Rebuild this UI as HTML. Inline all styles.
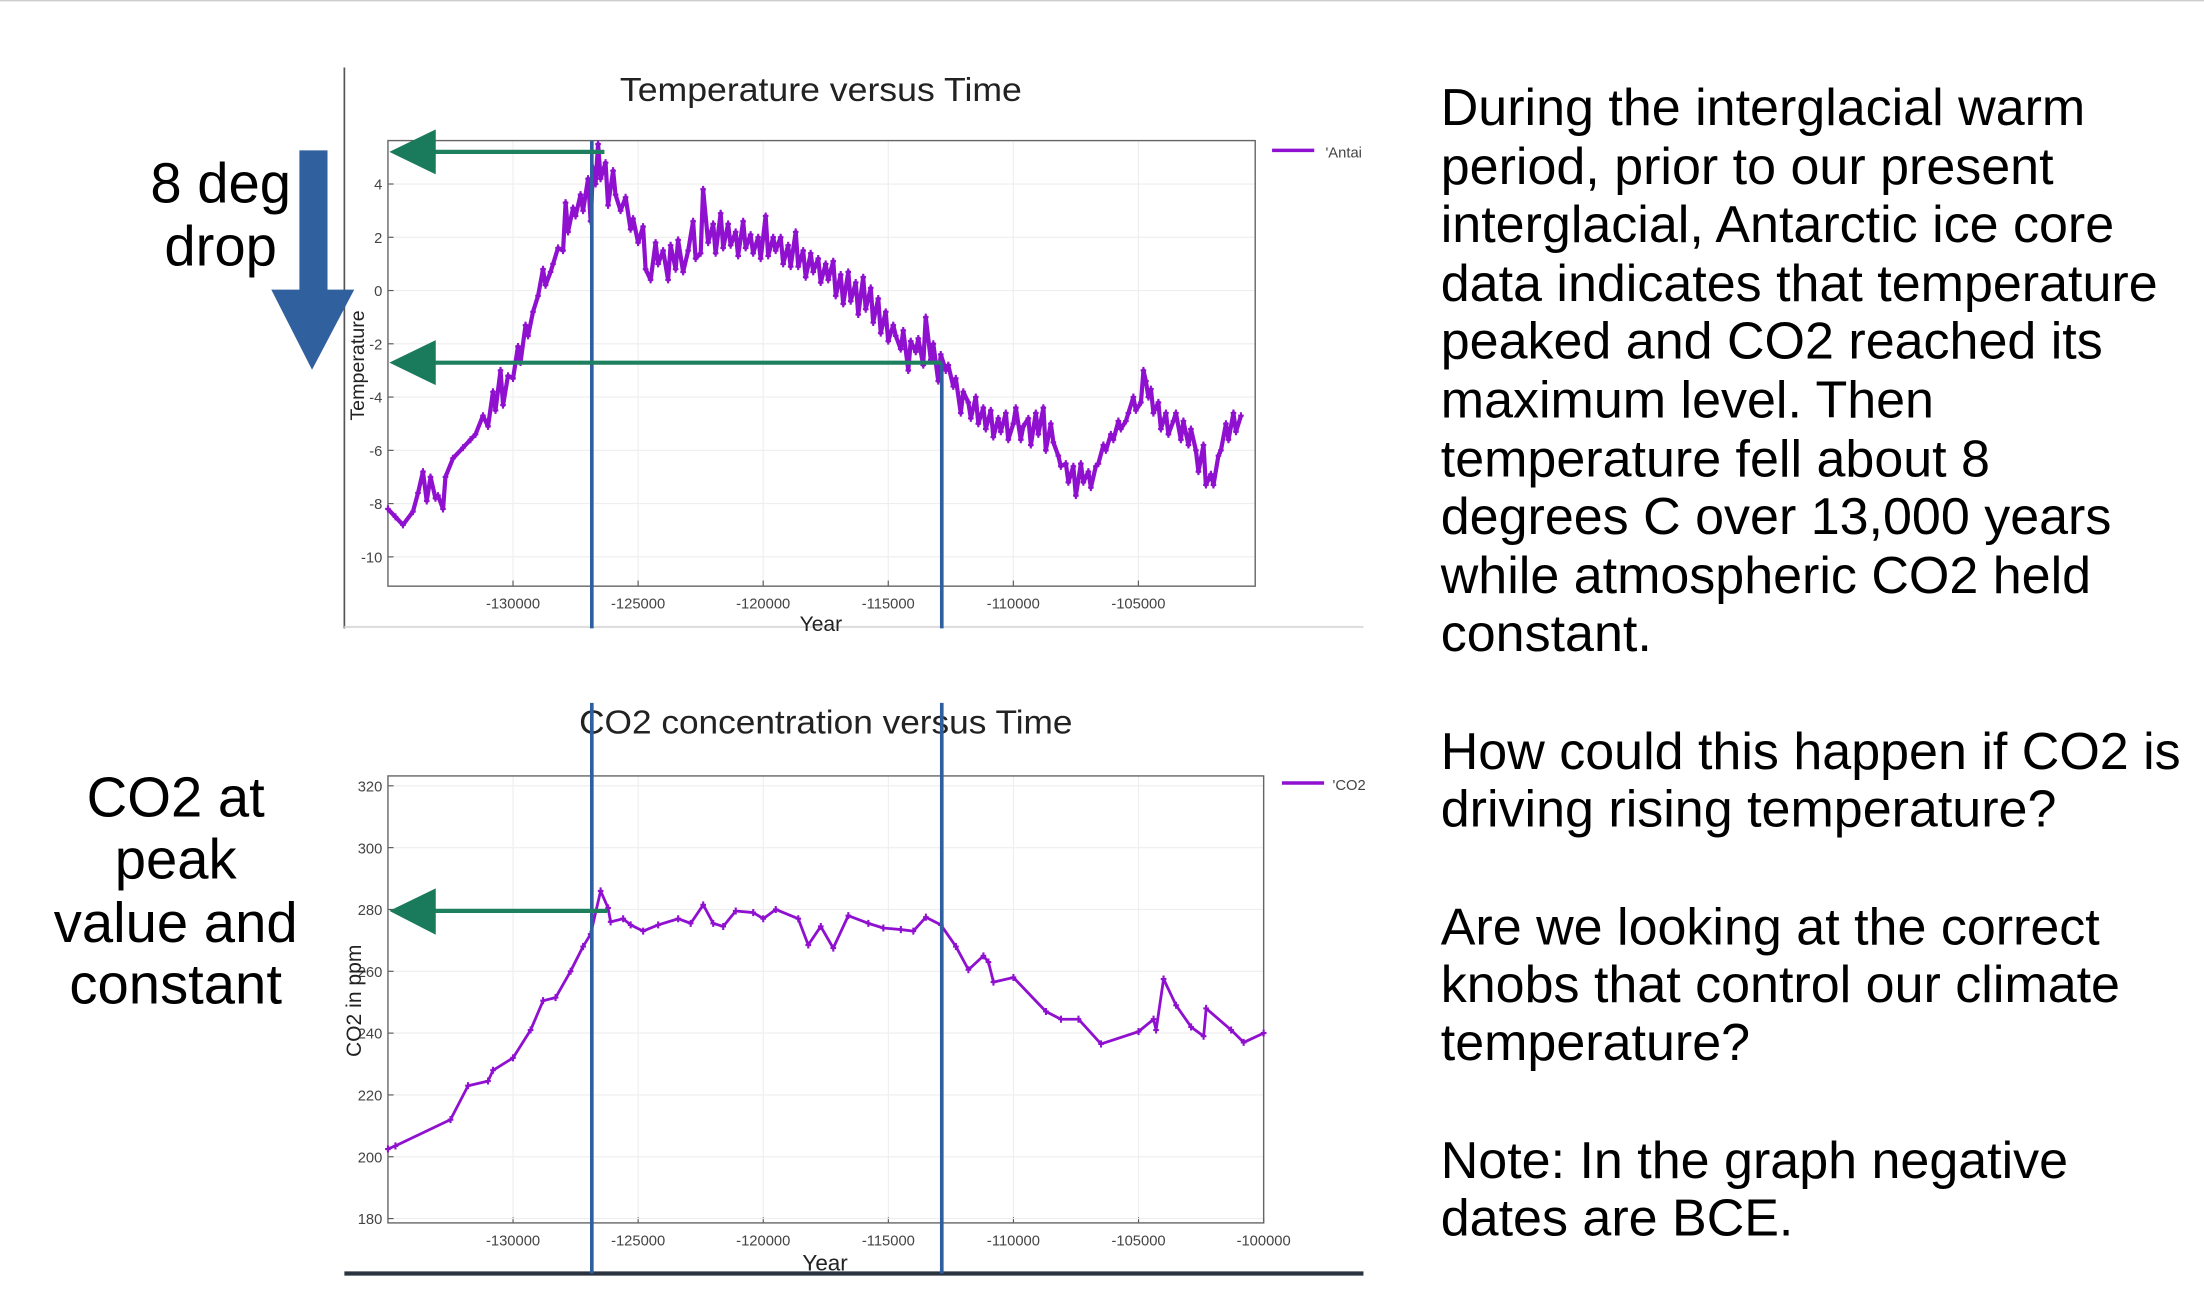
<!DOCTYPE html>
<html><head><meta charset="utf-8">
<style>
html,body{margin:0;padding:0;background:#fff;}
svg{display:block;}
text{font-family:"Liberation Sans",sans-serif;}
.tk{font-size:10.5px;fill:#444;}
</style></head>
<body>
<svg id="root" width="2204" height="1289" viewBox="0 0 1568 917" xmlns="http://www.w3.org/2000/svg">
<line x1="0" y1="0.5" x2="1568" y2="0.5" stroke="#ccc" stroke-width="1"/>
<g id="temp-chart"></g>
<g id="co2-chart"></g>

<g>
<text x="157" y="144" font-size="40" text-anchor="middle">8 deg</text>
<text x="157" y="189" font-size="40" text-anchor="middle">drop</text>
<polygon points="213,107 233,107 233,206 252,206 222,263 193,206 213,206" fill="#31609f"/>
<text x="125" y="581" font-size="40" text-anchor="middle">CO2 at</text>
<text x="125" y="625" font-size="40" text-anchor="middle">peak</text>
<text x="125" y="670" font-size="40" text-anchor="middle">value and</text>
<text x="125" y="714" font-size="40" text-anchor="middle">constant</text>
</g>

<g font-size="37">
<text x="1025" y="89">During the interglacial warm</text>
<text x="1025" y="131">period, prior to our present</text>
<text x="1025" y="172">interglacial, Antarctic ice core</text>
<text x="1025" y="214">data indicates that temperature</text>
<text x="1025" y="255">peaked and CO2 reached its</text>
<text x="1025" y="297">maximum level. Then</text>
<text x="1025" y="339">temperature fell about 8</text>
<text x="1025" y="380">degrees C over 13,000 years</text>
<text x="1025" y="422">while atmospheric CO2 held</text>
<text x="1025" y="463">constant.</text>
<text x="1025" y="547">How could this happen if CO2 is</text>
<text x="1025" y="588">driving rising temperature?</text>
<text x="1025" y="672">Are we looking at the correct</text>
<text x="1025" y="713">knobs that control our climate</text>
<text x="1025" y="754">temperature?</text>
<text x="1025" y="838">Note: In the graph negative</text>
<text x="1025" y="879">dates are BCE.</text>
</g>
</svg>
<script>
const NS="http://www.w3.org/2000/svg";
const xTicks=[-130000,-125000,-120000,-115000,-110000,-105000];
const xTicksCo2=[-130000,-125000,-120000,-115000,-110000,-105000,-100000];
const tempTicks=[4,2,0,-2,-4,-6,-8,-10];
const co2Ticks=[320,300,280,260,240,220,200,180];
const tempYears=[-135000,-134700,-134400,-134000,-133800,-133600,-133450,-133300,-133100,-133000,-132800,-132700,-132400,-132000,-131700,-131500,-131200,-131000,-130800,-130700,-130500,-130400,-130200,-130000,-129800,-129700,-129500,-129400,-129200,-129000,-128800,-128700,-128500,-128400,-128200,-128000,-127900,-127800,-127600,-127500,-127300,-127200,-127000,-126900,-126800,-126700,-126600,-126500,-126300,-126200,-126000,-125900,-125700,-125500,-125300,-125200,-125000,-124800,-124700,-124500,-124300,-124200,-124000,-123800,-123700,-123500,-123400,-123200,-123000,-122800,-122700,-122500,-122400,-122200,-122000,-121900,-121700,-121600,-121400,-121300,-121100,-121000,-120800,-120700,-120500,-120400,-120200,-120100,-119900,-119800,-119600,-119500,-119300,-119200,-119000,-118900,-118700,-118600,-118400,-118300,-118100,-118000,-117800,-117700,-117500,-117400,-117200,-117100,-116900,-116800,-116600,-116500,-116300,-116200,-116000,-115900,-115700,-115600,-115400,-115300,-115100,-115000,-114800,-114700,-114500,-114400,-114200,-114100,-113900,-113800,-113600,-113500,-113300,-113200,-113000,-112900,-112700,-112600,-112400,-112300,-112100,-112000,-111800,-111700,-111500,-111400,-111200,-111100,-110900,-110800,-110600,-110500,-110300,-110200,-110000,-109900,-109700,-109600,-109400,-109300,-109100,-109000,-108800,-108700,-108500,-108400,-108200,-108100,-107900,-107800,-107600,-107500,-107300,-107200,-107000,-106900,-106700,-106600,-106400,-106300,-106100,-106000,-105800,-105700,-105500,-105400,-105200,-105100,-104900,-104800,-104700,-104600,-104500,-104400,-104200,-104100,-103900,-103800,-103600,-103500,-103300,-103200,-103000,-102900,-102700,-102600,-102400,-102300,-102100,-102000,-101800,-101700,-101500,-101400,-101200,-101100,-100900,-100800,-100600,-100500,-100300];
const tempValues=[-8.2,-8.5,-8.8,-8.3,-7.6,-6.8,-7.9,-7.0,-7.8,-7.7,-8.2,-7.0,-6.3,-5.9,-5.6,-5.4,-4.7,-5.1,-3.8,-4.5,-3.0,-4.3,-3.2,-3.3,-2.1,-2.7,-1.3,-1.7,-0.8,-0.2,0.8,0.2,0.7,1.0,1.6,1.5,3.3,2.2,3.1,2.8,3.6,3.0,4.2,2.6,4.6,4.0,5.5,4.2,4.8,3.2,4.5,3.6,3.0,3.5,2.3,2.7,1.8,2.4,0.8,0.4,1.8,1.0,1.5,0.4,1.7,0.8,1.9,0.7,1.5,2.6,1.2,1.4,3.8,1.8,2.5,1.4,2.9,1.6,2.5,1.7,2.2,1.3,2.6,1.6,2.1,1.4,2.0,1.2,2.8,1.3,2.0,1.5,2.0,1.0,1.7,0.9,2.2,0.9,1.5,0.5,1.4,0.7,1.2,0.3,1.0,0.4,1.1,-0.2,0.6,-0.5,0.7,-0.4,0.3,-0.9,0.5,-0.7,0.1,-1.2,-0.3,-1.6,-0.8,-1.9,-1.3,-1.7,-2.2,-1.5,-3.0,-1.9,-2.3,-1.8,-2.8,-1.0,-2.6,-2.0,-3.4,-2.4,-3.0,-2.8,-3.6,-3.3,-4.6,-3.8,-4.2,-4.8,-4.0,-5.0,-4.4,-5.2,-4.5,-5.5,-4.8,-5.3,-4.6,-5.6,-5.0,-4.4,-5.6,-5.1,-4.8,-5.8,-4.6,-5.4,-4.4,-6.0,-5.0,-5.7,-6.2,-6.6,-6.5,-7.2,-6.6,-7.7,-6.5,-7.2,-6.8,-7.4,-6.6,-6.5,-5.8,-6.0,-5.4,-5.6,-4.9,-5.2,-4.9,-4.6,-4.0,-4.5,-4.2,-3.0,-3.4,-4.0,-3.7,-4.6,-4.2,-5.2,-4.6,-5.4,-4.9,-4.6,-5.6,-4.9,-5.8,-5.2,-6.0,-6.8,-5.8,-7.3,-6.9,-7.3,-6.2,-6.0,-5.0,-5.6,-4.6,-5.3,-4.7];
const co2Years=[-135000,-134700,-132500,-131800,-131000,-130800,-130000,-129300,-128800,-128300,-127700,-127200,-126900,-126500,-126200,-126100,-125600,-125300,-124800,-124200,-123400,-122900,-122400,-122000,-121600,-121100,-120400,-120000,-119500,-118600,-118200,-117700,-117200,-116600,-115800,-115200,-114500,-114000,-113500,-112900,-112300,-111800,-111200,-111000,-110800,-110000,-108700,-108100,-107400,-106500,-105000,-104400,-104300,-104000,-103500,-102900,-102400,-102300,-101300,-100800,-100000];
const co2Values=[202.5,203.5,212,223,224.5,228,232,241,250.5,251.5,260,268,272,286,280.5,276,277,275,273,275,277,275.5,281.5,275.5,274.5,279.5,279,277,280,277,268.5,274.5,267.5,278,275.5,274,273.5,273,277.5,275,268,260.5,265,263,256.5,258,247,244.5,244.5,236.5,240.5,244.5,241,257.5,249,242,239,248,241,237,240];

function el(parent,tag,attrs,name,inter){
  const e=document.createElementNS(NS,tag);
  for(const k in attrs)e.setAttribute(k,attrs[k]);
  
  
  parent.appendChild(e);return e;
}
function txt(parent,x,y,s,cls,name,extra){
  const t=el(parent,'text',Object.assign({x:x,y:y,class:cls||''},extra||{}),name,false);
  t.textContent=s;return t;
}
function makeX(x0,x1,px0,px1){return v=>px0+(v-x0)/(x1-x0)*(px1-px0);}

function drawChart(g,cfg){
  const L=cfg.L,R=cfg.R,T=cfg.T,B=cfg.B;
  const sx=makeX(cfg.xmin,cfg.xmax,L,R), sy=makeX(cfg.ymin,cfg.ymax,B,T);
  cfg.xt.forEach(v=>{const x=sx(v);
    el(g,'line',{x1:x,y1:T,x2:x,y2:B,stroke:'#eee','stroke-width':0.8},'x-gridline',false);
    el(g,'line',{x1:x,y1:B,x2:x,y2:B-4,stroke:'#555','stroke-width':0.8},'x-tick',false);
    txt(g,x,B+16,String(v),'tk','x-tick-label',{'text-anchor':'middle'});});
  cfg.yt.forEach(v=>{const y=sy(v);
    el(g,'line',{x1:L,y1:y,x2:R,y2:y,stroke:'#eee','stroke-width':0.8},'y-gridline',false);
    el(g,'line',{x1:L,y1:y,x2:L+4,y2:y,stroke:'#555','stroke-width':0.8},'y-tick',false);
    txt(g,L-4,y+4,String(v),'tk','y-tick-label',{'text-anchor':'end'});});
  el(g,'rect',{x:L,y:T,width:R-L,height:B-T,fill:'none',stroke:'#666','stroke-width':1},'plot-frame',false);
  let d='';cfg.xs.forEach((v,i)=>{d+=(i?'L':'M')+sx(v).toFixed(1)+','+sy(cfg.ys[i]).toFixed(1);});
  el(g,'path',{d:d,fill:'none',stroke:'#9010d0','stroke-width':cfg.sw,'stroke-linejoin':'round'},cfg.seriesName,false);
  cfg.xs.forEach((v,i)=>{const x=sx(v),y=sy(cfg.ys[i]);
    el(g,'path',{d:`M${x-2},${y}h4M${x},${y-2.5}v5`,stroke:'#9010d0','stroke-width':1.5},'data-point',false);});
  return {sx,sy};
}

const tg=document.getElementById('temp-chart');
el(tg,'line',{x1:245,y1:48,x2:245,y2:447,stroke:'#555','stroke-width':1.2},'left-divider',false);
el(tg,'line',{x1:245,y1:446,x2:970,y2:446,stroke:'#ddd','stroke-width':1.5},'bottom-divider',false);
txt(tg,441,72,'Temperature versus Time','','temp-chart-title',{'textLength':'286','lengthAdjust':'spacingAndGlyphs','font-size':'24','fill':'#222'});
const tA=drawChart(tg,{L:276,R:893,T:100,B:417,xmin:-135000,xmax:-100330,ymin:-11.1,ymax:5.63,xt:xTicks,yt:tempTicks,xs:tempYears,ys:tempValues,sw:3,seriesName:'temperature-line'});
txt(tg,0,0,'Temperature','','temp-y-axis-title',{transform:'translate(259,260) rotate(-90)','text-anchor':'middle','font-size':'14','fill':'#222'});
txt(tg,584,449,'Year','','temp-x-axis-title',{'text-anchor':'middle','font-size':'15','fill':'#222'});
el(tg,'rect',{x:894,y:95,width:80,height:130,fill:'#fff'},'legend-bg',false);
el(tg,'line',{x1:905,y1:107,x2:935,y2:107,stroke:'#9010d0','stroke-width':2.5},'legend-line',false);
txt(tg,943,112,"'Antai",'tk','legend-entry-antarctic',{'font-size':'11'});
const v1=tA.sx(-126850), v2=tA.sx(-112860);
el(tg,'line',{x1:v1,y1:100,x2:v1,y2:447,stroke:'#2f5f9e','stroke-width':2.6},'peak-marker-line',false);
el(tg,'line',{x1:v2,y1:258,x2:v2,y2:447,stroke:'#2f5f9e','stroke-width':2.6},'end-marker-line',false);
el(tg,'line',{x1:300,y1:108,x2:430,y2:108,stroke:'#1f8060','stroke-width':3},'peak-arrow-shaft',false);
el(tg,'polygon',{points:'277,108 310,92 310,124'},'peak-arrow-head',false).setAttribute('fill','#1a7a5c');
el(tg,'line',{x1:300,y1:258,x2:v2,y2:258,stroke:'#1f8060','stroke-width':3},'drop-arrow-shaft',false);
el(tg,'polygon',{points:'277,258 310,242 310,274'},'drop-arrow-head',false).setAttribute('fill','#1a7a5c');

const cg=document.getElementById('co2-chart');
txt(cg,412,522,'CO2 concentration versus Time','','co2-chart-title',{'textLength':'351','lengthAdjust':'spacingAndGlyphs','font-size':'24','fill':'#222'});
const cA=drawChart(cg,{L:276,R:899,T:552,B:870,xmin:-135000,xmax:-100000,ymin:178.6,ymax:323.2,xt:xTicksCo2,yt:co2Ticks,xs:co2Years,ys:co2Values,sw:2,seriesName:'co2-line'});
txt(cg,0,0,'CO2 in ppm','','co2-y-axis-title',{transform:'translate(257,712) rotate(-90)','text-anchor':'middle','font-size':'15','fill':'#222'});
txt(cg,587,904,'Year','','co2-x-axis-title',{'text-anchor':'middle','font-size':'16','fill':'#222'});
el(cg,'line',{x1:912,y1:557,x2:942,y2:557,stroke:'#9010d0','stroke-width':2.5},'legend-line',false);
txt(cg,948,562,"'CO2",'tk','legend-entry-co2',{'font-size':'11'});
el(cg,'line',{x1:245,y1:906,x2:970,y2:906,stroke:'#2a3340','stroke-width':3},'bottom-rule',false);
el(cg,'line',{x1:v1,y1:500,x2:v1,y2:906,stroke:'#2f5f9e','stroke-width':2.6},'peak-marker-line',false);
el(cg,'line',{x1:v2,y1:500,x2:v2,y2:906,stroke:'#2f5f9e','stroke-width':2.6},'end-marker-line',false);
el(cg,'line',{x1:300,y1:648,x2:432,y2:648,stroke:'#1f8060','stroke-width':3},'co2-arrow-shaft',false);
el(cg,'polygon',{points:'277,648 310,632 310,665'},'co2-arrow-head',false).setAttribute('fill','#1a7a5c');
</script>
</body></html>
